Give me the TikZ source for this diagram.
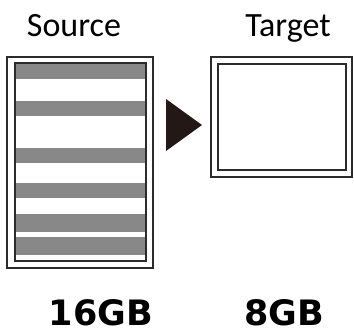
\documentclass[tikz,border=0pt]{standalone}
\usepackage{fontspec}
\setmainfont{Carlito}
\newfontfamily\boldfnt{DejaVu Sans}
\definecolor{stripe}{HTML}{888888}
\definecolor{frame}{HTML}{2B2B2B}
\definecolor{tri}{HTML}{231815}
\begin{document}
\begin{tikzpicture}[x=1pt,y=-1pt,
  framebox/.style={draw=frame,line width=1.5pt},
  stripebar/.style={fill=stripe},
  title/.style={font=\fontsize{34}{34}\selectfont,anchor=base,inner sep=0pt},
  size/.style={font=\boldfnt\bfseries\fontsize{35}{35}\selectfont,anchor=base,inner sep=0pt,text depth=0pt}]
\useasboundingbox (0,0) rectangle (354,332);
\fill[white] (0,0) rectangle (354,332);
% stripes
\foreach \a/\b in {64/79,101/116,148/163,183/198,214/232,237/255}
  \fill[stripebar] (15,\a) rectangle (146,\b);
% source frames
\draw[framebox] (7,57) rectangle (153,268);
\draw[framebox] (15,63) rectangle (146,261);
% target frames
\draw[framebox] (211,57) rectangle (352,177);
\draw[framebox] (218,64) rectangle (346,170);
% arrow
\fill[tri] (166,99) -- (202,125) -- (166,151) -- cycle;
% texts
\node[title] (src) at (74,36) {Source};
\node[title] (tgt) at (288,36) {Target};
\node[size] (s16) at (101,325) {16GB};
\node[size] (s8) at (284,325) {8GB};
\end{tikzpicture}
\end{document}
